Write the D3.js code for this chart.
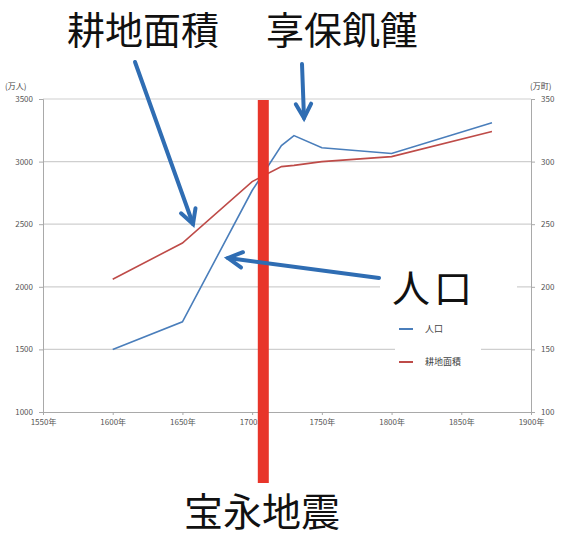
<!DOCTYPE html>
<html>
<head>
<meta charset="utf-8">
<script src="https://cdn.jsdelivr.net/npm/d3@7"></script>
<style>
  body { margin: 0; background: #fff; }
  text { font-family: "Noto Sans CJK JP", "Noto Sans", sans-serif; }
</style>
</head>
<body>
<div id="chart"></div>
<script>
// values
var years = [1600, 1650, 1700, 1721, 1730, 1750, 1800, 1872];
var population = [1500, 1720, 2769, 3128, 3208, 3110, 3065, 3311];   // 万人
var farmland = [206, 235, 284, 296, 297, 300, 304, 324];              // 万町
var xTicks = [1550, 1600, 1650, 1700, 1750, 1800, 1850, 1900];
var leftTicks = [1000, 1500, 2000, 2500, 3000, 3500];
var rightTicks = [100, 150, 200, 250, 300, 350];
var quakeYear = 1708;

var W = 562, H = 536;
var margin = { top: 99, right: 31, bottom: 124, left: 43 };

var svg = d3.select("#chart").append("svg")
    .attr("width", W)
    .attr("height", H);

svg.append("rect").attr("width", W).attr("height", H).attr("fill", "#fff");

var x = d3.scaleLinear().domain([1550, 1900]).range([margin.left, W - margin.right]);
var yL = d3.scaleLinear().domain([1000, 3500]).range([H - margin.bottom, margin.top]);
var yR = d3.scaleLinear().domain([100, 350]).range([H - margin.bottom, margin.top]);

// gridlines
svg.append("g")
    .selectAll("line")
    .data(leftTicks.slice(1))
    .enter().append("line")
    .attr("x1", x(1550)).attr("x2", x(1900))
    .attr("y1", function(d) { return yL(d); })
    .attr("y2", function(d) { return yL(d); })
    .attr("stroke", "#cfcfcf")
    .attr("stroke-width", 1.2);

// axes
var axisColor = "#a9a9a9";
var gl = svg.append("g")
    .attr("transform", "translate(" + margin.left + ",0)")
    .call(d3.axisLeft(yL).tickValues(leftTicks).tickSize(4).tickPadding(6).tickFormat(d3.format("d")));
var gr = svg.append("g")
    .attr("transform", "translate(" + (W - margin.right) + ",0)")
    .call(d3.axisRight(yR).tickValues(rightTicks).tickSize(4).tickPadding(6).tickFormat(d3.format("d")));
var gx = svg.append("g")
    .attr("transform", "translate(0," + (H - margin.bottom) + ")")
    .call(d3.axisBottom(x).tickValues(xTicks).tickSize(3).tickPadding(4)
        .tickFormat(function(d) { return d + "年"; }));

[gl, gr, gx].forEach(function(g) {
    g.selectAll("path, line").attr("stroke", axisColor);
    g.selectAll("text").attr("fill", "#555").style("font-size", "8px");
});

svg.append("text").attr("x", 5).attr("y", 89).text("(万人)")
    .attr("fill", "#444").style("font-size", "8px");
svg.append("text").attr("x", 530).attr("y", 89).text("(万町)")
    .attr("fill", "#444").style("font-size", "8px");

// series
var popLine = d3.line()
    .x(function(d, i) { return x(years[i]); })
    .y(function(d) { return yL(d); });
var farmLine = d3.line()
    .x(function(d, i) { return x(years[i]); })
    .y(function(d) { return yR(d); });

svg.append("path").datum(farmland)
    .attr("d", farmLine)
    .attr("fill", "none")
    .attr("stroke", "#be4b48")
    .attr("stroke-width", 1.6);
svg.append("path").datum(population)
    .attr("d", popLine)
    .attr("fill", "none")
    .attr("stroke", "#4a7ebb")
    .attr("stroke-width", 1.6);

// white box behind 人口 label and legend
svg.append("rect").attr("x", 380).attr("y", 266).attr("width", 137).attr("height", 36).attr("fill", "#fff");
svg.append("rect").attr("x", 395).attr("y", 302).attr("width", 86).attr("height", 80).attr("fill", "#fff");

var legend = svg.append("g");
[["人口", "#4a7ebb", 329], ["耕地面積", "#be4b48", 362]].forEach(function(l) {
    legend.append("line")
        .attr("x1", 399).attr("x2", 413)
        .attr("y1", l[2]).attr("y2", l[2])
        .attr("stroke", l[1]).attr("stroke-width", 2);
    legend.append("text")
        .attr("x", 425).attr("y", l[2] + 3)
        .text(l[0])
        .attr("fill", "#444").style("font-size", "9px");
});

// Hoei earthquake bar
svg.append("rect")
    .attr("x", x(quakeYear) - 5.5)
    .attr("y", 100)
    .attr("width", 11)
    .attr("height", 383)
    .attr("fill", "#e8352a");

// arrows
var arrowColor = "#2f6db3";
function arrow(x1, y1, x2, y2) {
    var ang = Math.atan2(y2 - y1, x2 - x1);
    var len = 16, spread = 0.5;
    svg.append("line")
        .attr("x1", x1).attr("y1", y1).attr("x2", x2).attr("y2", y2)
        .attr("stroke", arrowColor).attr("stroke-width", 4).attr("stroke-linecap", "round");
    var p = [
        [x2 - len * Math.cos(ang - spread), y2 - len * Math.sin(ang - spread)],
        [x2, y2],
        [x2 - len * Math.cos(ang + spread), y2 - len * Math.sin(ang + spread)]
    ];
    svg.append("path")
        .attr("d", "M" + p.join("L"))
        .attr("fill", "none")
        .attr("stroke", arrowColor).attr("stroke-width", 4)
        .attr("stroke-linecap", "round").attr("stroke-linejoin", "miter");
}
arrow(135, 62, 193, 224);
arrow(302, 64, 304, 118);
arrow(379, 278, 228, 258);

// big labels
function bigLabel(txt, cx, cy, size, spacing) {
    svg.append("text")
        .attr("x", cx).attr("y", cy)
        .attr("text-anchor", "middle")
        .attr("fill", "#111")
        .style("font-size", size + "px")
        .style("font-weight", "400")
        .style("letter-spacing", (spacing || 0) + "px")
        .text(txt);
}
bigLabel("耕地面積", 143, 44, 38);
bigLabel("享保飢饉", 342, 44, 38);
bigLabel("人口", 434, 302, 38, 4);
bigLabel("宝永地震", 262, 526, 39);
</script>
</body>
</html>
